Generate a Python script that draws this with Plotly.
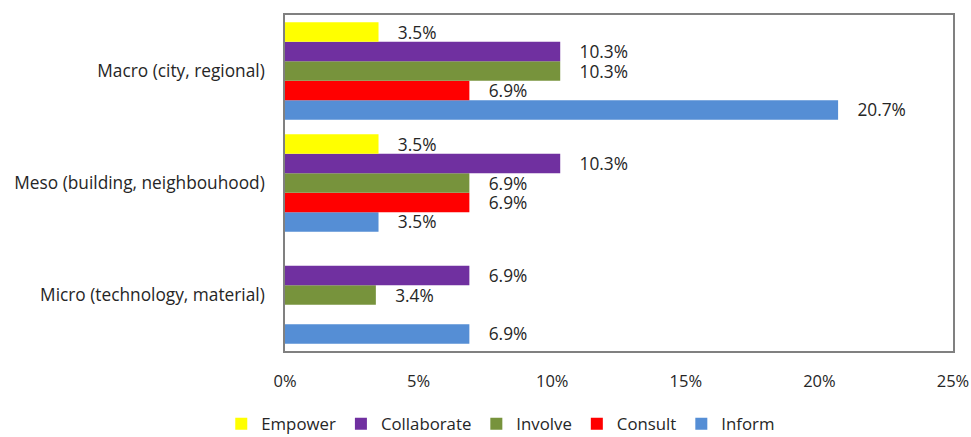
import plotly.graph_objects as go

categories = ["Micro (technology, material)", "Meso (building, neighbouhood)", "Macro (city, regional)"]
series_names = ["Inform", "Consult", "Involve", "Collaborate", "Empower"]
inform = [6.9, 3.5, 20.7]
consult = [None, 6.9, 6.9]
involve = [3.4, 6.9, 10.3]
collaborate = [6.9, 10.3, 10.3]
empower = [None, 3.5, 3.5]
colors = ["#558ED5", "#FF0000", "#77933C", "#7030A0", "#FFFF00"]
x_ticks = [0, 5, 10, 15, 20, 25]
x_tick_labels = ["0%", "5%", "10%", "15%", "20%", "25%"]

values = [inform, consult, involve, collaborate, empower]
FS = 17.3

fig = go.Figure()
for name, vals, col in zip(series_names, values, colors):
    fig.add_trace(go.Bar(
        y=categories, x=vals, name=name, orientation="h",
        marker=dict(color=col, line=dict(width=0)),
        text=[("   \u2009" + f"{v:.1f}%") if v is not None else "" for v in vals],
        textposition="outside", cliponaxis=False, constraintext="none",
        textfont=dict(size=FS, color="#262626"),
    ))

fig.update_layout(
    width=971, height=437,
    barmode="group", bargap=0.13, bargroupgap=0,
    paper_bgcolor="white", plot_bgcolor="white",
    font=dict(family="Open Sans", size=FS, color="#262626"),
    margin=dict(l=285, r=18, t=15, b=86, autoexpand=False),
    legend=dict(orientation="h", traceorder="reversed", x=0.323, xanchor="center",
                y=-0.217, yanchor="middle", font=dict(size=16.8),
                itemwidth=30, tracegroupgap=0),
)
fig.update_xaxes(range=[0, 25], tickmode="array", tickvals=x_ticks, ticktext=x_tick_labels,
                 showgrid=False, zeroline=False, showline=True, mirror=True,
                 linecolor="#808080", linewidth=1.5, ticklabelstandoff=14,
                 automargin=False, ticklabeloverflow="allow",
                 tickfont=dict(size=16.5))
fig.update_yaxes(showgrid=False, showline=True, mirror=True, linecolor="#808080",
                 linewidth=1.5, ticklabelstandoff=15, automargin=False)

fig.write_html("out.html", config={"displayModeBar": False},
               post_script="document.body.style.margin='0';document.body.style.overflow='hidden';")
